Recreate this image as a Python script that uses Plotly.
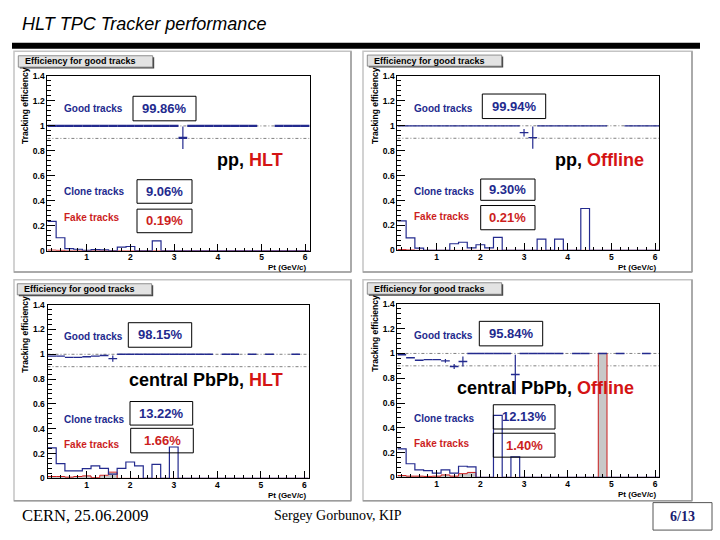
import plotly.graph_objects as go

W, H = 720, 540


def px(x):
    return x / W


def py(y):
    return 1 - y / H


# ---------------- data ----------------
pt_edges = [0.1, 0.3, 0.5, 0.7, 0.9, 1.1, 1.3, 1.5, 1.7, 1.9, 2.1, 2.3, 2.5, 2.7, 2.9, 3.1,
            3.3, 3.5, 3.7, 3.9, 4.1, 4.3, 4.5, 4.7, 4.9, 5.1, 5.3, 5.5, 5.7, 5.9, 6.1]
x_tick_vals = [1, 2, 3, 4, 5, 6]
y_tick_vals = [0, 0.2, 0.4, 0.6, 0.8, 1.0, 1.2, 1.4]
y_tick_text = ["0", "0.2", "0.4", "0.6", "0.8", "1", "1.2", "1.4"]
ref_levels = [1.0, 0.9]

# pp, HLT
good_pp_hlt = [1, 1, 1, 1, 1, 1, 1, 1, 1, 1, 1, 1, 1, 1, 1, 0.905,
               1, 1, 1, 1, 1, 1, 1, 1, None, None, 1, 1, 1, 1]
good_err_pp_hlt = [0, 0, 0, 0, 0, 0, 0, 0, 0, 0, 0, 0, 0, 0, 0, 0.09,
                   0, 0, 0, 0, 0, 0, 0, 0, 0, 0, 0, 0, 0, 0]
clone_pp_hlt = [0.236, 0.105, 0.018, 0.013, 0.005, 0.01, 0.008, 0, 0.03, 0.035, 0, 0, 0.08, 0, 0,
                0, 0, 0, 0, 0, 0, 0, 0, 0, 0, 0, 0, 0, 0, 0]
fake_pp_hlt = [0.006, 0.004, 0, 0, 0, 0, 0, 0, 0, 0, 0, 0, 0, 0, 0,
               0, 0, 0, 0, 0, 0, 0, 0, 0, 0, 0, 0, 0, 0, 0]

# pp, Offline
good_pp_off = [1, 1, 1, 1, 1, 1, 1, 1, 1, 1, 1, 1, 1, 1, 0.945, 0.905,
               1, 1, 1, 1, 1, 1, 1, 1, None, None, 1, 1, 1, 1]
good_err_pp_off = [0, 0, 0, 0, 0, 0, 0, 0, 0, 0, 0, 0, 0, 0, 0.03, 0.09,
                   0, 0, 0, 0, 0, 0, 0, 0, 0, 0, 0, 0, 0, 0]
clone_pp_off = [0.236, 0.1, 0.018, 0, 0, 0, 0.053, 0.065, 0.02, 0.045, 0.02, 0.105, 0, 0, 0,
                0, 0.09, 0, 0.09, 0, 0, 0.336, 0, 0, 0, 0, 0, 0, 0, 0]
fake_pp_off = [0.006, 0.003, 0, 0, 0, 0, 0, 0, 0, 0, 0, 0, 0, 0, 0,
               0, 0, 0, 0, 0, 0, 0, 0, 0, 0, 0, 0, 0, 0, 0]

# central PbPb, HLT
good_pb_hlt = [0.985, 0.985, 0.975, 0.975, 0.98, 0.985, 0.99, 0.965, 1, 1, 1, 1, 1, 1, 1, 1,
               1, 1, 1, None, 1, 1, None, 1, None, 1, None, None, 1, None]
good_err_pb_hlt = [0, 0, 0, 0, 0, 0, 0, 0.025, 0, 0, 0, 0, 0, 0, 0, 0,
                   0, 0, 0, 0, 0, 0, 0, 0, 0, 0, 0, 0, 0, 0]
clone_pb_hlt = [0.245, 0.119, 0.061, 0.061, 0.079, 0.1, 0.08, 0.034, 0.08, 0.132, 0.1, 0, 0.113, 0,
                0.253, 0, 0, 0, 0, 0, 0, 0, 0, 0, 0, 0, 0, 0, 0, 0]
fake_pb_hlt = [0.015, 0.015, 0.01, 0.015, 0.02, 0.005, 0.025, 0.05, 0, 0, 0, 0, 0, 0, 0,
               0, 0, 0, 0, 0, 0, 0, 0, 0, 0, 0, 0, 0, 0, 0]

# central PbPb, Offline
good_pb_off = [0.99, 0.965, 0.945, 0.95, 0.95, 0.94, 0.895, 0.935, 1, 1, 1, 1, 1, 0.83, 1, 1,
               1, 1, 1, None, 1, 1, None, 1, None, 1, None, None, 1, None]
good_err_pb_off = [0, 0, 0, 0, 0, 0.015, 0.02, 0.04, 0, 0, 0, 0, 0, 0.16, 0, 0,
                   0, 0, 0, 0, 0, 0, 0, 0, 0, 0, 0, 0, 0, 0]
clone_pb_off = [0.23, 0.11, 0.06, 0.055, 0.035, 0.06, 0.035, 0.09, 0.085, 0, 0, 0.5, 0, 0.165, 0,
                0, 0, 0, 0, 0, 0, 0, 0, 0, 0, 0, 0, 0, 0, 0]
fake_pb_off = [0.015, 0.01, 0.01, 0.008, 0.01, 0.02, 0.01, 0.03, 0.04, 0, 0, 0, 0, 0, 0,
               0, 0, 0, 0, 0, 0, 0, 0, 1.0, 0, 0, 0, 0, 0, 0]

panel_system = ["pp", "pp", "central PbPb", "central PbPb"]
panel_mode = ["HLT", "Offline", "HLT", "Offline"]
good_pct = ["99.86%", "99.94%", "98.15%", "95.84%"]
clone_pct = ["9.06%", "9.30%", "13.22%", "12.13%"]
fake_pct = ["0.19%", "0.21%", "1.66%", "1.40%"]
good_series = [good_pp_hlt, good_pp_off, good_pb_hlt, good_pb_off]
good_err_series = [good_err_pp_hlt, good_err_pp_off, good_err_pb_hlt, good_err_pb_off]
clone_series = [clone_pp_hlt, clone_pp_off, clone_pb_hlt, clone_pb_off]
fake_series = [fake_pp_hlt, fake_pp_off, fake_pb_hlt, fake_pb_off]

# ---------------- geometry (pixels) ----------------
geom = [
    dict(pad=(14, 47, 351, 272), plot=(47.4, 72.3, 309.6, 250.5), tbox=(18.3, 51.7, 152.7, 63.3),
         ytit=(25, 103), xtit=(309, 267.5), glab=(62, 105), gbox=(133, 93, 196, 118), big=(215, 157.7),
         clab=(62, 190), cbox=(137, 178, 192, 202), flab=(62, 216), fbox=(137, 208, 192, 232), gw=2.2),
    dict(pad=(363, 47, 692, 272), plot=(397.4, 72.3, 659.4, 250), tbox=(367.3, 51, 501.7, 62.3),
         ytit=(375, 103), xtit=(659, 267), glab=(412, 105), gbox=(482.3, 90.7, 545.7, 115.7), big=(553, 158.3),
         clab=(412, 190), cbox=(480.7, 177.3, 535, 199), flab=(412, 215.3), fbox=(480.7, 204.3, 535, 229), gw=1.2),
    dict(pad=(14, 280, 351, 505), plot=(47.5, 305.3, 308.7, 482.3), tbox=(17.3, 284, 151.7, 295.3),
         ytit=(25, 336), xtit=(309, 499.5), glab=(61.7, 337.3), gbox=(128.3, 323.7, 191.7, 348.7), big=(127.3, 382),
         clab=(62, 422), cbox=(130, 404, 192.7, 428), flab=(62, 448), fbox=(130.7, 431.3, 193.3, 456.3), gw=1.4),
    dict(pad=(363, 280, 692, 505), plot=(397.4, 304.5, 659.4, 481.3), tbox=(367.3, 283, 501.7, 294.7),
         ytit=(375, 335), xtit=(659, 499), glab=(411.7, 336.3), gbox=(479.3, 322.3, 542.7, 347.3), big=(455, 390.7),
         clab=(412, 421.3), cbox=(493.3, 407.3, 555, 432), flab=(412, 447), fbox=(493.3, 436.3, 555, 460.7), gw=1.4),
]

BLUE = "#232a8e"
RED = "#cc1e1e"
FONT = "Liberation Sans"

fig = go.Figure()
shapes = []
annotations = []
layout = {}

centers = [(pt_edges[i] + pt_edges[i + 1]) / 2 for i in range(len(pt_edges) - 1)]

for k, g in enumerate(geom):
    sfx = "" if k == 0 else str(k + 1)
    xa, ya = "x" + sfx, "y" + sfx
    x0, y0, x1, y1 = g["plot"]
    common = dict(showline=True, mirror=True, linecolor="black", linewidth=1,
                  ticks="inside", tickcolor="black", showgrid=False, zeroline=False,
                  tickfont=dict(family=FONT, size=8.5, color="black", weight="bold"))
    layout["xaxis" + sfx] = dict(domain=[px(x0), px(x1)], range=[0.1, 6.1], anchor=ya,
                                 tickvals=x_tick_vals, ticklen=7, ticklabelstandoff=-2,
                                 minor=dict(dtick=0.2, tick0=0, ticklen=3, ticks="inside", tickcolor="black"),
                                 **common)
    layout["yaxis" + sfx] = dict(domain=[py(y1), py(y0)], range=[0, 1.4], anchor=xa,
                                 tickvals=y_tick_vals, ticktext=y_tick_text, ticklen=8,
                                 minor=dict(dtick=0.04, tick0=0, ticklen=4, ticks="inside", tickcolor="black"),
                                 **common)

    fake = fake_series[k]
    clone = clone_series[k]
    good = good_series[k]
    gerr = good_err_series[k]

    if k >= 2:
        # grey fill of the fake-track histogram
        fig.add_trace(go.Bar(x=centers, y=fake, width=0.2, xaxis=xa, yaxis=ya,
                             marker=dict(color="#c8c8c8", line=dict(width=0)),
                             showlegend=False, hoverinfo="skip"))
    fig.add_trace(go.Scatter(x=pt_edges, y=fake + [fake[-1]], mode="lines", line_shape="hv",
                             line=dict(color=RED, width=1), xaxis=xa, yaxis=ya,
                             showlegend=False, hoverinfo="skip"))
    fig.add_trace(go.Scatter(x=pt_edges, y=clone + [clone[-1]], mode="lines", line_shape="hv",
                             line=dict(color=BLUE, width=1.2), xaxis=xa, yaxis=ya,
                             showlegend=False, hoverinfo="skip"))
    fig.add_trace(go.Scatter(x=centers, y=good, mode="markers", marker=dict(size=0.1, color=BLUE),
                             error_x=dict(type="constant", value=0.1, width=0, color=BLUE, thickness=g["gw"]),
                             error_y=dict(type="data", array=gerr, width=0, color=BLUE, thickness=1.2),
                             xaxis=xa, yaxis=ya, showlegend=False, hoverinfo="skip"))

    # pad background
    p = g["pad"]
    shapes.append(dict(type="rect", xref="paper", yref="paper", layer="below",
                       x0=px(p[0]), x1=px(p[2]), y0=py(p[3]), y1=py(p[1]),
                       fillcolor="white", line=dict(color="#c4c4c4", width=1.5)))
    shapes.append(dict(type="line", xref="paper", yref="paper", layer="below",
                       x0=px(p[0]), x1=px(p[2]), y0=py(p[3]), y1=py(p[3]),
                       line=dict(color="#9c9c9c", width=1.5)))
    shapes.append(dict(type="line", xref="paper", yref="paper", layer="below",
                       x0=px(p[2]), x1=px(p[2]), y0=py(p[3]), y1=py(p[1]),
                       line=dict(color="#9c9c9c", width=1.5)))
    # reference lines
    for lev in ref_levels:
        shapes.append(dict(type="line", xref=xa, yref=ya, layer="below", x0=0.1, x1=6.1, y0=lev, y1=lev,
                           line=dict(color="#808080", width=1, dash="3px,2px,1px,2px")))
    # title box
    t = g["tbox"]
    shapes.append(dict(type="rect", xref="paper", yref="paper", x0=px(t[0] + 1.5), x1=px(t[2] + 1.5),
                       y0=py(t[3] + 1.5), y1=py(t[1] + 1.5), fillcolor="#444", line=dict(width=0)))
    shapes.append(dict(type="rect", xref="paper", yref="paper", x0=px(t[0]), x1=px(t[2]),
                       y0=py(t[3]), y1=py(t[1]), fillcolor="#e3e3e3", line=dict(color="#777", width=0.8)))
    annotations.append(dict(xref="paper", yref="paper", x=px(t[0] + 5), y=py((t[1] + t[3]) / 2),
                            xanchor="left", yanchor="middle", showarrow=False,
                            text="<b>Efficiency for good tracks</b>",
                            font=dict(family=FONT, size=9, color="black")))
    # axis titles
    annotations.append(dict(xref="paper", yref="paper", x=px(g["ytit"][0]), y=py(g["ytit"][1]),
                            xanchor="center", yanchor="middle", showarrow=False, textangle=-90,
                            text="<b>Tracking efficiency</b>", font=dict(family=FONT, size=8.5, color="black")))
    annotations.append(dict(xref="paper", yref="paper", x=px(g["xtit"][0]), y=py(g["xtit"][1]),
                            xanchor="right", yanchor="middle", showarrow=False,
                            text="<b>Pt (GeV/c)</b>", font=dict(family=FONT, size=8, color="black")))
    # legend-like labels
    for lab, pos, col in (("Good tracks", g["glab"], BLUE), ("Clone tracks", g["clab"], BLUE),
                          ("Fake tracks", g["flab"], RED)):
        annotations.append(dict(xref="paper", yref="paper", x=px(pos[0]), y=py(pos[1]),
                                xanchor="left", yanchor="middle", showarrow=False,
                                text="<b>%s</b>" % lab, font=dict(family=FONT, size=10, color=col)))
    for val, box, col in ((good_pct[k], g["gbox"], BLUE), (clone_pct[k], g["cbox"], BLUE),
                          (fake_pct[k], g["fbox"], RED)):
        shapes.append(dict(type="rect", xref="paper", yref="paper", x0=px(box[0]), x1=px(box[2]),
                           y0=py(box[3]), y1=py(box[1]), line=dict(color="black", width=1)))
        annotations.append(dict(xref="paper", yref="paper", x=px((box[0] + box[2]) / 2),
                                y=py((box[1] + box[3]) / 2), xanchor="center", yanchor="middle",
                                showarrow=False, text="<b>%s</b>" % val,
                                font=dict(family=FONT, size=13, color=col)))
    annotations.append(dict(xref="paper", yref="paper", x=px(g["big"][0]), y=py(g["big"][1]),
                            xanchor="left", yanchor="middle", showarrow=False,
                            text="<b>%s, <span style='color:%s'>%s</span></b>" % (panel_system[k], "#d41414",
                                                                                    panel_mode[k]),
                            font=dict(family=FONT, size=18, color="black")))

# slide decoration
shapes.append(dict(type="rect", xref="paper", yref="paper", x0=px(12), x1=px(700), y0=py(44.5), y1=py(38.5),
                   fillcolor="black", line=dict(width=0)))
shapes.append(dict(type="rect", xref="paper", yref="paper", x0=px(653), x1=px(712), y0=py(535), y1=py(507),
                   line=dict(color="#555", width=1), fillcolor="rgba(0,0,0,0)"))
annotations.append(dict(xref="paper", yref="paper", x=px(20), y=py(19), xanchor="left", yanchor="middle",
                        showarrow=False, text="<i>HLT TPC Tracker performance</i>",
                        font=dict(family=FONT, size=18, color="black")))
annotations.append(dict(xref="paper", yref="paper", x=px(20), y=py(520), xanchor="left", yanchor="middle",
                        showarrow=False, text="CERN, 25.06.2009",
                        font=dict(family="Liberation Serif", size=16.5, color="black")))
annotations.append(dict(xref="paper", yref="paper", x=px(272), y=py(520), xanchor="left", yanchor="middle",
                        showarrow=False, text="Sergey Gorbunov, KIP",
                        font=dict(family="Liberation Serif", size=14, color="black")))
annotations.append(dict(xref="paper", yref="paper", x=px(682.5), y=py(521), xanchor="center", yanchor="middle",
                        showarrow=False, text="<b>6/13</b>",
                        font=dict(family="Liberation Serif", size=14, color="#1a2070")))

fig.update_layout(width=W, height=H, margin=dict(l=0, r=0, t=0, b=0),
                  paper_bgcolor="white", plot_bgcolor="white", showlegend=False,
                  barmode="overlay", bargap=0,
                  shapes=shapes, annotations=annotations, **layout)

fig.write_html("out.html", config={"displayModeBar": False},
               post_script="document.body.style.margin='0px';")
